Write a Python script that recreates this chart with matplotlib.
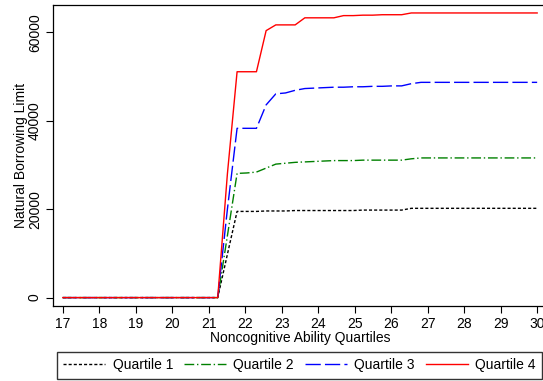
import numpy as np
import matplotlib
matplotlib.use("Agg")
import matplotlib.pyplot as plt

plt.rcParams["font.family"] = ["Liberation Sans", "DejaVu Sans"]
plt.rcParams["font.size"] = 10

# age grid: 50 points between 17 and 30
ages = np.linspace(17, 30, 50)

q1 = [0, 0, 0, 0, 0, 0, 0, 0, 0, 0, 0, 0, 0, 0, 0, 0, 0,
      9800, 19500, 19500, 19500, 19600, 19600, 19600, 19700, 19700,
      19700, 19700, 19700, 19700, 19700, 19800, 19800, 19800, 19800, 19800,
      20200, 20200, 20200, 20200, 20200, 20200, 20200, 20200, 20200, 20200,
      20200, 20200, 20200, 20200]
q2 = [0, 0, 0, 0, 0, 0, 0, 0, 0, 0, 0, 0, 0, 0, 0, 0, 0,
      14000, 28100, 28200, 28400, 29300, 30200, 30400, 30600, 30700,
      30800, 30900, 31000, 31000, 31000, 31100, 31100, 31100, 31100, 31100,
      31400, 31600, 31600, 31600, 31600, 31600, 31600, 31600, 31600, 31600,
      31600, 31600, 31600, 31600]
q3 = [0, 0, 0, 0, 0, 0, 0, 0, 0, 0, 0, 0, 0, 0, 0, 0, 0,
      20000, 38300, 38300, 38300, 43600, 46100, 46300, 46900, 47300,
      47400, 47500, 47600, 47600, 47700, 47700, 47800, 47800, 47900, 47900,
      48400, 48700, 48700, 48700, 48700, 48700, 48700, 48700, 48700, 48700,
      48700, 48700, 48700, 48700]
q4 = [0, 0, 0, 0, 0, 0, 0, 0, 0, 0, 0, 0, 0, 0, 0, 0, 0,
      28000, 51100, 51100, 51100, 60400, 61700, 61700, 61700, 63300,
      63300, 63300, 63300, 63800, 63800, 63900, 63900, 64000, 64000, 64000,
      64400, 64400, 64400, 64400, 64400, 64400, 64400, 64400, 64400, 64400,
      64400, 64400, 64400, 64400]

labels = ["Quartile 1", "Quartile 2", "Quartile 3", "Quartile 4"]
xticks = list(range(17, 31))
yticks = [0, 20000, 40000, 60000]

fig = plt.figure(figsize=(5.43, 3.81), dpi=100)
# axes run slightly past the right edge of the canvas
ax = fig.add_axes([53 / 543, 75 / 381, 494 / 543, 301 / 381])

lw = 1.0
ax.plot(ages, q1, color="black", lw=lw, linestyle=(0, (2.2, 1.5)), label=labels[0])
ax.plot(ages, q2, color="#008000", lw=lw, linestyle=(0, (7, 2, 1, 2)), label=labels[1])
ax.plot(ages, q3, color="blue", lw=lw, linestyle=(0, (11, 3)), label=labels[2])
ax.plot(ages, q4, color="red", lw=lw, linestyle="-", label=labels[3])

ax.set_xlim(16.73, 30.27)
ax.set_ylim(-1900, 66200)
ax.set_xticks(xticks)
ax.set_yticks(yticks)
ax.set_yticklabels([str(v) for v in yticks], rotation=90, va="center")
ax.tick_params(direction="out", length=5, width=0.8, labelsize=10, pad=3)
for s in ax.spines.values():
    s.set_linewidth(0.9)

ax.set_xlabel("Noncognitive Ability Quartiles", fontsize=10, labelpad=0)
ax.set_ylabel("Natural Borrowing Limit", fontsize=10, labelpad=0)

fig.legend(loc="upper left", bbox_to_anchor=(57 / 543, 1 - 352 / 381),
           ncol=4, frameon=True, fancybox=False, edgecolor="black",
           handlelength=3.0, handletextpad=0.55, columnspacing=0.8,
           borderpad=0.45, fontsize=10, borderaxespad=0)

fig.savefig("out.png", dpi=100)
